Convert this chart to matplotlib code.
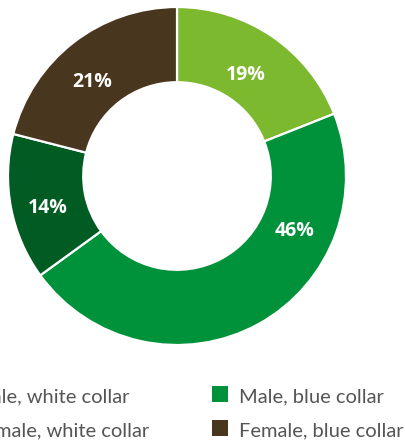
import matplotlib
matplotlib.use("Agg")
import matplotlib.pyplot as plt
from matplotlib.patches import Rectangle
import numpy as np

# Workforce composition (share of employees, %)
categories = ["Male, white collar", "Male, blue collar", "Female, white collar", "Female, blue collar"]
shares = [19, 46, 14, 21]
colors = ["#7DB92E", "#00923A", "#005C22", "#49361F"]

# legend is laid out in two columns: white collar left, blue collar right
legend_order = ["Male, white collar", "Female, white collar", "Male, blue collar", "Female, blue collar"]

W, H = 406, 441
fig = plt.figure(figsize=(W / 100, H / 100), dpi=100)
ax = fig.add_axes([0, 0, 1, 1])

cx, cy, R = 177, H - 176, 169
ring = 0.445

wedges, _ = ax.pie(
    shares,
    colors=colors,
    startangle=90,
    counterclock=False,
    radius=R,
    center=(cx, cy),
    wedgeprops=dict(width=R * ring, edgecolor="white", linewidth=1.6),
)

# percentage labels inside the ring (angle nudges in degrees, radius as fraction of R)
label_shift = {"Male, blue collar": 36, "Female, white collar": 3, "Female, blue collar": 4}
label_rad = {"Male, white collar": 0.72, "Male, blue collar": 0.77,
             "Female, white collar": 0.79, "Female, blue collar": 0.75}
for w, cat, val in zip(wedges, categories, shares):
    mid = np.deg2rad((w.theta1 + w.theta2) / 2 + label_shift.get(cat, 0))
    r = R * label_rad[cat]
    ax.text(cx + r * np.cos(mid), cy + r * np.sin(mid), f"{val}%",
            ha="center", va="center", color="white", fontsize=14,
            fontweight="bold", family="Open Sans")

# legend
col_x = [-54, 212]
row_y = [H - 402, H - 436]
sq = 16
for i, cat in enumerate(legend_order):
    col, row = divmod(i, 2)
    c = colors[categories.index(cat)]
    x0, yb = col_x[col], row_y[row]
    ax.add_patch(Rectangle((x0, yb), sq, sq, facecolor=c, edgecolor="none", clip_on=False))
    ax.text(x0 + 27, yb, cat, ha="left", va="baseline", fontsize=14.5,
            color="#555555", family="Lato", clip_on=False)

ax.set_xlim(0, W)
ax.set_ylim(0, H)
ax.set_aspect("auto")
ax.axis("off")

fig.savefig("out.png", dpi=100)
